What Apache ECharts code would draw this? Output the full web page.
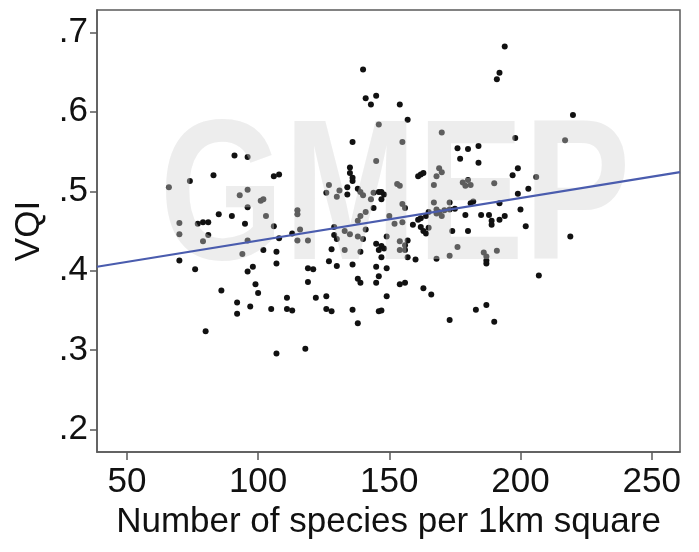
<!DOCTYPE html>
<html>
<head>
<meta charset="utf-8">
<script src="https://cdn.jsdelivr.net/npm/echarts@6/dist/echarts.min.js"></script>
<style>html,body{margin:0;padding:0;background:#fff;}#c{width:699px;height:552px;}</style>
</head>
<body>
<div id="c"></div>
<script>
const speciesCount = [91,83,74,66,93,85,90,70,77,79,81,70,81,79,70,76,86,92,92,80,
96,96,96,95,96,94,96,97,106,108,101,102,115,115,103,106,108,113,116,115,102,107,107,98,99,100,111,105,111,113,107,
119,119,121,119,122,118,126,126,128,127,126,130,131,129,129,130,128,127,130,
140,141,145,143,146,136,145,135,135,136,136,134,134,138,139,140,143,144,146,147,148,147,144,141,139,138,133,135,138,140,141,145,147,148,146,149,150,133,139,147,136,145,149,146,138,139,145,149,136,146,147,138,
154,157,155,153,154,155,156,152,155,159,154,156,157,154,156,157,160,154,156,207,
170,176,180,184,177,184,169,170,168,161,162,163,167,178,179,180,181,190,167,173,182,181,192,
161,162,164,165,168,169,168,170,171,173,175,162,163,165,164,174,179,180,176,173,168,163,166,173,
194,192,191,198,199,197,206,203,199,200,185,188,189,189,192,194,202,186,191,187,187,187,183,187,190,220,217,219];
const vqi = [.545,.520,.513,.505,.495,.471,.469,.460,.459,.461,.461,.446,.445,.437,.413,.402,.375,.360,.346,.324,
.543,.502,.480,.459,.438,.421,.399,.355,.519,.521,.488,.490,.476,.471,.469,.456,.441,.447,.452,.438,.426,.424,.409,.405,.383,.372,.366,.352,.352,.350,.296,
.438,.403,.402,.386,.366,.302,.368,.352,.349,.508,.498,.493,.501,.455,.445,.440,.427,.412,.406,
.653,.617,.620,.609,.584,.562,.538,.530,.523,.517,.513,.505,.496,.503,.499,.495,.490,.498,.499,.499,.496,.490,.479,.474,.469,.463,.450,.446,.443,.440,.452,.434,.431,.428,.426,.443,.469,.426,.424,.417,.408,.405,.403,.393,.390,.385,.385,.368,.351,.349,.350,.334,
.609,.590,.562,.509,.507,.484,.479,.459,.461,.458,.437,.432,.438,.426,.426,.417,.414,.383,.385,.394,
.574,.554,.553,.557,.541,.536,.529,.524,.519,.519,.521,.523,.508,.511,.507,.514,.508,.510,.486,.486,.487,.485,.485,
.464,.466,.469,.474,.477,.474,.472,.469,.476,.477,.478,.455,.450,.454,.447,.450,.470,.450,.430,.419,.415,.378,.370,.338,
.682,.649,.641,.567,.529,.520,.518,.503,.497,.477,.470,.470,.463,.458,.464,.469,.456,.423,.425,.418,.413,.409,.351,.357,.336,.596,.564,.443];
const fitX = [38.6, 260.8];
const fitY = [0.405, 0.524];
const xTicks = [50, 100, 150, 200, 250];
const yTicks = [0.2, 0.3, 0.4, 0.5, 0.6, 0.7];
const xTitle = 'Number of species per 1km square';
const yTitle = 'VQI';
const watermark = 'GMEP';

const points = speciesCount.map((x, i) => [x, vqi[i]]);
const fitLine = fitX.map((x, i) => [x, fitY[i]]);

const chart = echarts.init(document.getElementById('c'), null, {renderer: 'canvas'});
const FONT = '"Liberation Sans", Arial, sans-serif';
const axisCol = '#5a5a5a';
chart.setOption({
  animation: false,
  backgroundColor: '#fff',
  grid: {left: 97, right: 19, top: 10, bottom: 100, show: true, borderColor: axisCol, borderWidth: 1.5, backgroundColor: 'transparent'},
  xAxis: {
    type: 'value', min: 38.6, max: 260.8,
    name: xTitle, nameLocation: 'middle', nameGap: 52,
    nameTextStyle: {fontFamily: FONT, fontSize: 35, color: '#111'},
    axisLine: {show: true, lineStyle: {color: axisCol, width: 1.5}},
    axisTick: {show: true, length: 8, customValues: xTicks, lineStyle: {color: axisCol, width: 1.5}},
    axisLabel: {customValues: xTicks, margin: 13, fontFamily: FONT, fontSize: 35, color: '#111'},
    splitLine: {show: false}
  },
  yAxis: {
    type: 'value', min: 0.172, max: 0.728,
    name: yTitle, nameLocation: 'middle', nameGap: 50, nameRotate: 90,
    nameTextStyle: {fontFamily: FONT, fontSize: 35, color: '#111'},
    axisLine: {show: true, lineStyle: {color: axisCol, width: 1.5}},
    axisTick: {show: true, length: 7, customValues: yTicks, lineStyle: {color: axisCol, width: 1.5}},
    axisLabel: {customValues: yTicks, margin: 9, fontFamily: FONT, fontSize: 35, color: '#111',
      formatter: v => v.toFixed(1).replace(/^0/, '')},
    splitLine: {show: false}
  },
  graphic: [{
    type: 'text', x: 395, y: 204, z: 5, zlevel: 0, scaleX: 0.8, silent: true,
    style: {text: watermark, font: 'bold 200px ' + FONT, fill: 'rgba(210,210,210,0.40)',
      textAlign: 'center', textVerticalAlign: 'middle',
      shadowColor: 'rgba(0,0,0,0.10)', shadowBlur: 8, shadowOffsetX: 3, shadowOffsetY: 3}
  }],
  series: [
    {type: 'scatter', data: points, symbolSize: 6, itemStyle: {color: '#111', opacity: 1}, z: 2},
    {type: 'line', data: fitLine, showSymbol: false, lineStyle: {color: '#4a5cae', width: 2.2}, z: 20}
  ]
});
</script>
</body>
</html>
